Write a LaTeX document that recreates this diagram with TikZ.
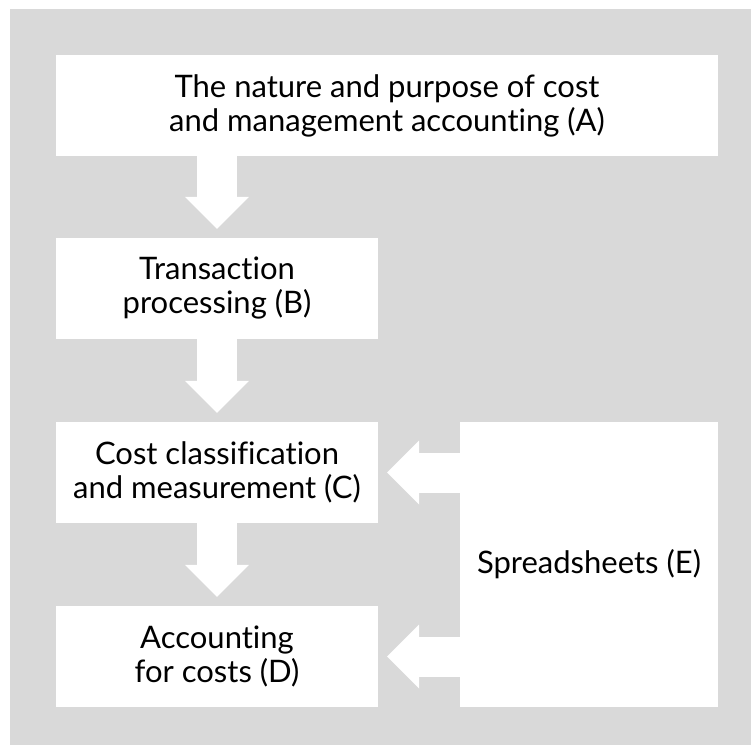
\documentclass[tikz,border=0pt]{standalone}
\usepackage{fontspec}
\setmainfont{Lato}[Ligatures=NoCommon]
\usetikzlibrary{arrows.meta}
\definecolor{panelgray}{RGB}{217,217,217}
\tikzset{
  box/.style={fill=white, inner sep=0pt, align=center, minimum height=101pt,
    font=\fontsize{31}{34}\selectfont},
  flow/.style={white, line width=40pt,
    -{Triangle[width=64pt,length=32pt,line width'=0pt]}, shorten >=9pt}
}
\begin{document}
\begin{tikzpicture}[x=1pt,y=-1pt]
    \useasboundingbox (0,0) rectangle (751,745);
    \fill[white] (0,0) rectangle (751,745);
    \fill[panelgray] (10,9) rectangle (751,745);
    % boxes
    \node[box, minimum width=662pt] (A) at (387,105.5) {The nature and purpose of cost\\and management accounting (A)};
    \node[box, minimum width=322pt] (B) at (217,288.5) {Transaction\\processing (B)};
    \node[box, minimum width=322pt] (C) at (217,472.5) {Cost classification\\and measurement (C)};
    \node[box, minimum width=322pt] (D) at (217,656.5) {Accounting\\for costs (D)};
    \node[box, minimum width=258pt, minimum height=285pt] (E) at (589,564.5) {Spreadsheets (E)};
    % block arrows
    \draw[flow] (A.south -| B) -- (B.north);
    \draw[flow] (B.south) -- (C.north);
    \draw[flow] (C.south) -- (D.north);
    \draw[flow] (E.west |- C) -- (C.east);
    \draw[flow] (E.west |- D) -- (D.east);
\end{tikzpicture}
\end{document}
